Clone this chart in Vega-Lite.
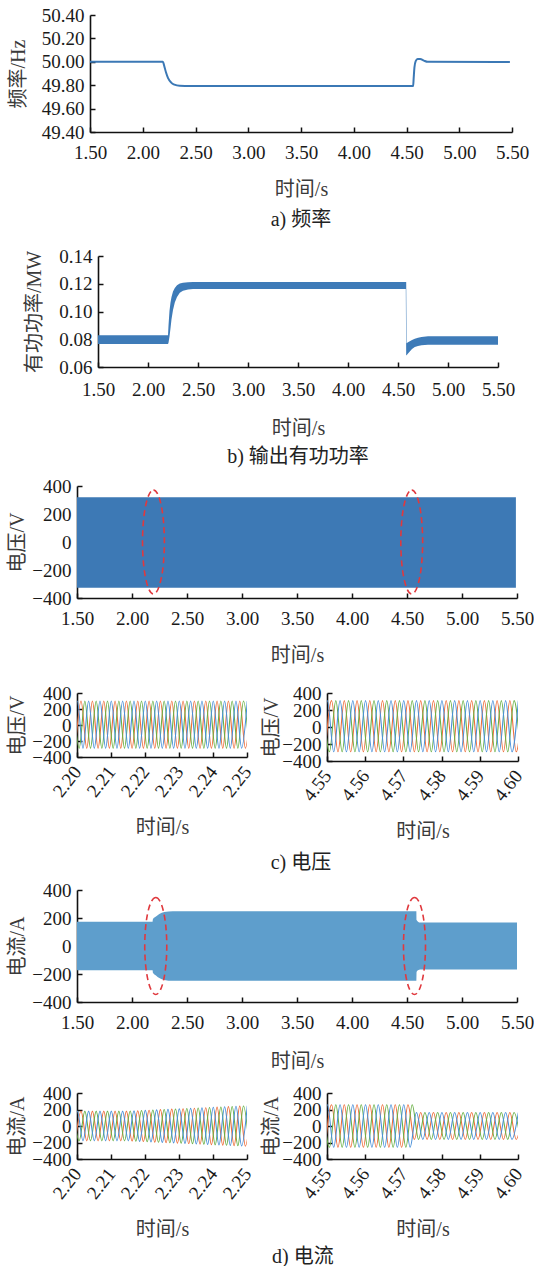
{
"$schema": "https://vega.github.io/schema/vega-lite/v6.json",
"padding": {"left": 0, "top": 6, "right": 0, "bottom": 0},
"background": "white",
"config": {
 "view": {"stroke": null},
 "axis": {"grid": false, "domainColor": "#111", "domainWidth": 1.6, "tickColor": "#111", "tickWidth": 1.5, "tickSize": -5, "labelFont": "Liberation Serif, Times New Roman, Times, serif", "labelFontSize": 19, "labelColor": "#1a1a1a", "labelFlush": false, "labelOverlap": false, "labelBound": false, "titleFont": "Liberation Serif, Times New Roman, Noto Sans CJK SC, serif", "titleFontSize": 20, "titleFontWeight": "normal", "titleColor": "#3a3a3a"},
 "title": {"orient": "bottom", "font": "Liberation Serif, Times New Roman, Noto Sans CJK SC, serif", "fontSize": 20, "fontWeight": "normal", "color": "#222", "anchor": "middle"}
},
"datasets": {
 "vl": [
  {"t":2.19953,"v":-290,"p":"O"},{"t":2.2012,"v":300,"p":"O"},{"t":2.20287,"v":-290,"p":"O"},{"t":2.20453,"v":300,"p":"O"},{"t":2.2062,"v":-290,"p":"O"},{"t":2.20787,"v":300,"p":"O"},{"t":2.20953,"v":-290,"p":"O"},{"t":2.2112,"v":300,"p":"O"},{"t":2.21287,"v":-290,"p":"O"},{"t":2.21453,"v":300,"p":"O"},{"t":2.2162,"v":-290,"p":"O"},{"t":2.21787,"v":300,"p":"O"},{"t":2.21953,"v":-290,"p":"O"},{"t":2.2212,"v":300,"p":"O"},{"t":2.22287,"v":-290,"p":"O"},{"t":2.22453,"v":300,"p":"O"},{"t":2.2262,"v":-290,"p":"O"},{"t":2.22787,"v":300,"p":"O"},{"t":2.22953,"v":-290,"p":"O"},{"t":2.2312,"v":300,"p":"O"},{"t":2.23287,"v":-290,"p":"O"},{"t":2.23453,"v":300,"p":"O"},{"t":2.2362,"v":-290,"p":"O"},{"t":2.23787,"v":300,"p":"O"},{"t":2.23953,"v":-290,"p":"O"},{"t":2.2412,"v":300,"p":"O"},{"t":2.24287,"v":-290,"p":"O"},{"t":2.24453,"v":300,"p":"O"},{"t":2.2462,"v":-290,"p":"O"},{"t":2.24787,"v":300,"p":"O"},{"t":2.24953,"v":-290,"p":"O"},{"t":2.2512,"v":300,"p":"O"},
  {"t":2.19897,"v":300,"p":"G"},{"t":2.20064,"v":-290,"p":"G"},{"t":2.20231,"v":300,"p":"G"},{"t":2.20397,"v":-290,"p":"G"},{"t":2.20564,"v":300,"p":"G"},{"t":2.20731,"v":-290,"p":"G"},{"t":2.20897,"v":300,"p":"G"},{"t":2.21064,"v":-290,"p":"G"},{"t":2.21231,"v":300,"p":"G"},{"t":2.21397,"v":-290,"p":"G"},{"t":2.21564,"v":300,"p":"G"},{"t":2.21731,"v":-290,"p":"G"},{"t":2.21897,"v":300,"p":"G"},{"t":2.22064,"v":-290,"p":"G"},{"t":2.22231,"v":300,"p":"G"},{"t":2.22397,"v":-290,"p":"G"},{"t":2.22564,"v":300,"p":"G"},{"t":2.22731,"v":-290,"p":"G"},{"t":2.22897,"v":300,"p":"G"},{"t":2.23064,"v":-290,"p":"G"},{"t":2.23231,"v":300,"p":"G"},{"t":2.23397,"v":-290,"p":"G"},{"t":2.23564,"v":300,"p":"G"},{"t":2.23731,"v":-290,"p":"G"},{"t":2.23897,"v":300,"p":"G"},{"t":2.24064,"v":-290,"p":"G"},{"t":2.24231,"v":300,"p":"G"},{"t":2.24397,"v":-290,"p":"G"},{"t":2.24564,"v":300,"p":"G"},{"t":2.24731,"v":-290,"p":"G"},{"t":2.24897,"v":300,"p":"G"},{"t":2.25064,"v":-290,"p":"G"},
  {"t":2.19842,"v":-290,"p":"B"},{"t":2.20009,"v":300,"p":"B"},{"t":2.20176,"v":-290,"p":"B"},{"t":2.20342,"v":300,"p":"B"},{"t":2.20509,"v":-290,"p":"B"},{"t":2.20676,"v":300,"p":"B"},{"t":2.20842,"v":-290,"p":"B"},{"t":2.21009,"v":300,"p":"B"},{"t":2.21176,"v":-290,"p":"B"},{"t":2.21342,"v":300,"p":"B"},{"t":2.21509,"v":-290,"p":"B"},{"t":2.21676,"v":300,"p":"B"},{"t":2.21842,"v":-290,"p":"B"},{"t":2.22009,"v":300,"p":"B"},{"t":2.22176,"v":-290,"p":"B"},{"t":2.22342,"v":300,"p":"B"},{"t":2.22509,"v":-290,"p":"B"},{"t":2.22676,"v":300,"p":"B"},{"t":2.22842,"v":-290,"p":"B"},{"t":2.23009,"v":300,"p":"B"},{"t":2.23176,"v":-290,"p":"B"},{"t":2.23342,"v":300,"p":"B"},{"t":2.23509,"v":-290,"p":"B"},{"t":2.23676,"v":300,"p":"B"},{"t":2.23842,"v":-290,"p":"B"},{"t":2.24009,"v":300,"p":"B"},{"t":2.24176,"v":-290,"p":"B"},{"t":2.24342,"v":300,"p":"B"},{"t":2.24509,"v":-290,"p":"B"},{"t":2.24676,"v":300,"p":"B"},{"t":2.24842,"v":-290,"p":"B"},{"t":2.25009,"v":300,"p":"B"}
 ],
 "vr": [
  {"t":4.54953,"v":-292,"p":"O"},{"t":4.5512,"v":310,"p":"O"},{"t":4.55287,"v":-292,"p":"O"},{"t":4.55453,"v":310,"p":"O"},{"t":4.5562,"v":-292,"p":"O"},{"t":4.55787,"v":310,"p":"O"},{"t":4.55953,"v":-292,"p":"O"},{"t":4.5612,"v":310,"p":"O"},{"t":4.56287,"v":-292,"p":"O"},{"t":4.56453,"v":310,"p":"O"},{"t":4.5662,"v":-292,"p":"O"},{"t":4.56787,"v":310,"p":"O"},{"t":4.56953,"v":-292,"p":"O"},{"t":4.5712,"v":310,"p":"O"},{"t":4.57287,"v":-292,"p":"O"},{"t":4.57453,"v":310,"p":"O"},{"t":4.5762,"v":-292,"p":"O"},{"t":4.57787,"v":310,"p":"O"},{"t":4.57953,"v":-292,"p":"O"},{"t":4.5812,"v":310,"p":"O"},{"t":4.58287,"v":-292,"p":"O"},{"t":4.58453,"v":310,"p":"O"},{"t":4.5862,"v":-292,"p":"O"},{"t":4.58787,"v":310,"p":"O"},{"t":4.58953,"v":-292,"p":"O"},{"t":4.5912,"v":310,"p":"O"},{"t":4.59287,"v":-292,"p":"O"},{"t":4.59453,"v":310,"p":"O"},{"t":4.5962,"v":-292,"p":"O"},{"t":4.59787,"v":310,"p":"O"},{"t":4.59953,"v":-292,"p":"O"},{"t":4.6012,"v":310,"p":"O"},
  {"t":4.54897,"v":310,"p":"G"},{"t":4.55064,"v":-292,"p":"G"},{"t":4.55231,"v":310,"p":"G"},{"t":4.55397,"v":-292,"p":"G"},{"t":4.55564,"v":310,"p":"G"},{"t":4.55731,"v":-292,"p":"G"},{"t":4.55897,"v":310,"p":"G"},{"t":4.56064,"v":-292,"p":"G"},{"t":4.56231,"v":310,"p":"G"},{"t":4.56397,"v":-292,"p":"G"},{"t":4.56564,"v":310,"p":"G"},{"t":4.56731,"v":-292,"p":"G"},{"t":4.56897,"v":310,"p":"G"},{"t":4.57064,"v":-292,"p":"G"},{"t":4.57231,"v":310,"p":"G"},{"t":4.57397,"v":-292,"p":"G"},{"t":4.57564,"v":310,"p":"G"},{"t":4.57731,"v":-292,"p":"G"},{"t":4.57897,"v":310,"p":"G"},{"t":4.58064,"v":-292,"p":"G"},{"t":4.58231,"v":310,"p":"G"},{"t":4.58397,"v":-292,"p":"G"},{"t":4.58564,"v":310,"p":"G"},{"t":4.58731,"v":-292,"p":"G"},{"t":4.58897,"v":310,"p":"G"},{"t":4.59064,"v":-292,"p":"G"},{"t":4.59231,"v":310,"p":"G"},{"t":4.59397,"v":-292,"p":"G"},{"t":4.59564,"v":310,"p":"G"},{"t":4.59731,"v":-292,"p":"G"},{"t":4.59897,"v":310,"p":"G"},{"t":4.60064,"v":-292,"p":"G"},
  {"t":4.54842,"v":-292,"p":"B"},{"t":4.55009,"v":310,"p":"B"},{"t":4.55176,"v":-292,"p":"B"},{"t":4.55342,"v":310,"p":"B"},{"t":4.55509,"v":-292,"p":"B"},{"t":4.55676,"v":310,"p":"B"},{"t":4.55842,"v":-292,"p":"B"},{"t":4.56009,"v":310,"p":"B"},{"t":4.56176,"v":-292,"p":"B"},{"t":4.56342,"v":310,"p":"B"},{"t":4.56509,"v":-292,"p":"B"},{"t":4.56676,"v":310,"p":"B"},{"t":4.56842,"v":-292,"p":"B"},{"t":4.57009,"v":310,"p":"B"},{"t":4.57176,"v":-292,"p":"B"},{"t":4.57342,"v":310,"p":"B"},{"t":4.57509,"v":-292,"p":"B"},{"t":4.57676,"v":310,"p":"B"},{"t":4.57842,"v":-292,"p":"B"},{"t":4.58009,"v":310,"p":"B"},{"t":4.58176,"v":-292,"p":"B"},{"t":4.58342,"v":310,"p":"B"},{"t":4.58509,"v":-292,"p":"B"},{"t":4.58676,"v":310,"p":"B"},{"t":4.58842,"v":-292,"p":"B"},{"t":4.59009,"v":310,"p":"B"},{"t":4.59176,"v":-292,"p":"B"},{"t":4.59342,"v":310,"p":"B"},{"t":4.59509,"v":-292,"p":"B"},{"t":4.59676,"v":310,"p":"B"},{"t":4.59842,"v":-292,"p":"B"},{"t":4.60009,"v":310,"p":"B"}
 ],
 "il": [
  {"t":2.19953,"v":-180,"p":"O"},{"t":2.2012,"v":180,"p":"O"},{"t":2.20287,"v":-180,"p":"O"},{"t":2.20453,"v":180,"p":"O"},{"t":2.2062,"v":-180,"p":"O"},{"t":2.20787,"v":180,"p":"O"},{"t":2.20953,"v":-180,"p":"O"},{"t":2.2112,"v":180,"p":"O"},{"t":2.21287,"v":-180,"p":"O"},{"t":2.21453,"v":180,"p":"O"},{"t":2.2162,"v":-182,"p":"O"},{"t":2.21787,"v":185,"p":"O"},{"t":2.21953,"v":-188,"p":"O"},{"t":2.2212,"v":191,"p":"O"},{"t":2.22287,"v":-195,"p":"O"},{"t":2.22453,"v":198,"p":"O"},{"t":2.2262,"v":-201,"p":"O"},{"t":2.22787,"v":204,"p":"O"},{"t":2.22953,"v":-207,"p":"O"},{"t":2.2312,"v":210,"p":"O"},{"t":2.23287,"v":-213,"p":"O"},{"t":2.23453,"v":216,"p":"O"},{"t":2.2362,"v":-219,"p":"O"},{"t":2.23787,"v":222,"p":"O"},{"t":2.23953,"v":-226,"p":"O"},{"t":2.2412,"v":229,"p":"O"},{"t":2.24287,"v":-232,"p":"O"},{"t":2.24453,"v":235,"p":"O"},{"t":2.2462,"v":-238,"p":"O"},{"t":2.24787,"v":241,"p":"O"},{"t":2.24953,"v":-244,"p":"O"},{"t":2.2512,"v":246,"p":"O"},
  {"t":2.19897,"v":180,"p":"G"},{"t":2.20064,"v":-180,"p":"G"},{"t":2.20231,"v":180,"p":"G"},{"t":2.20397,"v":-180,"p":"G"},{"t":2.20564,"v":180,"p":"G"},{"t":2.20731,"v":-180,"p":"G"},{"t":2.20897,"v":180,"p":"G"},{"t":2.21064,"v":-180,"p":"G"},{"t":2.21231,"v":180,"p":"G"},{"t":2.21397,"v":-180,"p":"G"},{"t":2.21564,"v":181,"p":"G"},{"t":2.21731,"v":-184,"p":"G"},{"t":2.21897,"v":187,"p":"G"},{"t":2.22064,"v":-190,"p":"G"},{"t":2.22231,"v":194,"p":"G"},{"t":2.22397,"v":-197,"p":"G"},{"t":2.22564,"v":200,"p":"G"},{"t":2.22731,"v":-203,"p":"G"},{"t":2.22897,"v":206,"p":"G"},{"t":2.23064,"v":-209,"p":"G"},{"t":2.23231,"v":212,"p":"G"},{"t":2.23397,"v":-215,"p":"G"},{"t":2.23564,"v":218,"p":"G"},{"t":2.23731,"v":-221,"p":"G"},{"t":2.23897,"v":225,"p":"G"},{"t":2.24064,"v":-228,"p":"G"},{"t":2.24231,"v":231,"p":"G"},{"t":2.24397,"v":-234,"p":"G"},{"t":2.24564,"v":237,"p":"G"},{"t":2.24731,"v":-240,"p":"G"},{"t":2.24897,"v":243,"p":"G"},{"t":2.25064,"v":-245,"p":"G"},
  {"t":2.19842,"v":-180,"p":"B"},{"t":2.20009,"v":180,"p":"B"},{"t":2.20176,"v":-180,"p":"B"},{"t":2.20342,"v":180,"p":"B"},{"t":2.20509,"v":-180,"p":"B"},{"t":2.20676,"v":180,"p":"B"},{"t":2.20842,"v":-180,"p":"B"},{"t":2.21009,"v":180,"p":"B"},{"t":2.21176,"v":-180,"p":"B"},{"t":2.21342,"v":180,"p":"B"},{"t":2.21509,"v":-180,"p":"B"},{"t":2.21676,"v":183,"p":"B"},{"t":2.21842,"v":-186,"p":"B"},{"t":2.22009,"v":189,"p":"B"},{"t":2.22176,"v":-193,"p":"B"},{"t":2.22342,"v":196,"p":"B"},{"t":2.22509,"v":-199,"p":"B"},{"t":2.22676,"v":202,"p":"B"},{"t":2.22842,"v":-205,"p":"B"},{"t":2.23009,"v":208,"p":"B"},{"t":2.23176,"v":-211,"p":"B"},{"t":2.23342,"v":214,"p":"B"},{"t":2.23509,"v":-217,"p":"B"},{"t":2.23676,"v":220,"p":"B"},{"t":2.23842,"v":-224,"p":"B"},{"t":2.24009,"v":227,"p":"B"},{"t":2.24176,"v":-230,"p":"B"},{"t":2.24342,"v":233,"p":"B"},{"t":2.24509,"v":-236,"p":"B"},{"t":2.24676,"v":239,"p":"B"},{"t":2.24842,"v":-242,"p":"B"},{"t":2.25009,"v":245,"p":"B"}
 ],
 "ir": [
  {"t":4.54953,"v":-258,"p":"O"},{"t":4.5512,"v":258,"p":"O"},{"t":4.55287,"v":-258,"p":"O"},{"t":4.55453,"v":258,"p":"O"},{"t":4.5562,"v":-258,"p":"O"},{"t":4.55787,"v":258,"p":"O"},{"t":4.55953,"v":-258,"p":"O"},{"t":4.5612,"v":258,"p":"O"},{"t":4.56287,"v":-258,"p":"O"},{"t":4.56453,"v":258,"p":"O"},{"t":4.5662,"v":-258,"p":"O"},{"t":4.56787,"v":258,"p":"O"},{"t":4.56953,"v":-258,"p":"O"},{"t":4.5712,"v":258,"p":"O"},{"t":4.57287,"v":-163,"p":"O"},{"t":4.57453,"v":163,"p":"O"},{"t":4.5762,"v":-163,"p":"O"},{"t":4.57787,"v":163,"p":"O"},{"t":4.57953,"v":-163,"p":"O"},{"t":4.5812,"v":163,"p":"O"},{"t":4.58287,"v":-163,"p":"O"},{"t":4.58453,"v":163,"p":"O"},{"t":4.5862,"v":-163,"p":"O"},{"t":4.58787,"v":163,"p":"O"},{"t":4.58953,"v":-163,"p":"O"},{"t":4.5912,"v":163,"p":"O"},{"t":4.59287,"v":-163,"p":"O"},{"t":4.59453,"v":163,"p":"O"},{"t":4.5962,"v":-163,"p":"O"},{"t":4.59787,"v":163,"p":"O"},{"t":4.59953,"v":-163,"p":"O"},{"t":4.6012,"v":163,"p":"O"},
  {"t":4.54897,"v":258,"p":"G"},{"t":4.55064,"v":-258,"p":"G"},{"t":4.55231,"v":258,"p":"G"},{"t":4.55397,"v":-258,"p":"G"},{"t":4.55564,"v":258,"p":"G"},{"t":4.55731,"v":-258,"p":"G"},{"t":4.55897,"v":258,"p":"G"},{"t":4.56064,"v":-258,"p":"G"},{"t":4.56231,"v":258,"p":"G"},{"t":4.56397,"v":-258,"p":"G"},{"t":4.56564,"v":258,"p":"G"},{"t":4.56731,"v":-258,"p":"G"},{"t":4.56897,"v":258,"p":"G"},{"t":4.57064,"v":-258,"p":"G"},{"t":4.57231,"v":258,"p":"G"},{"t":4.57397,"v":-163,"p":"G"},{"t":4.57564,"v":163,"p":"G"},{"t":4.57731,"v":-163,"p":"G"},{"t":4.57897,"v":163,"p":"G"},{"t":4.58064,"v":-163,"p":"G"},{"t":4.58231,"v":163,"p":"G"},{"t":4.58397,"v":-163,"p":"G"},{"t":4.58564,"v":163,"p":"G"},{"t":4.58731,"v":-163,"p":"G"},{"t":4.58897,"v":163,"p":"G"},{"t":4.59064,"v":-163,"p":"G"},{"t":4.59231,"v":163,"p":"G"},{"t":4.59397,"v":-163,"p":"G"},{"t":4.59564,"v":163,"p":"G"},{"t":4.59731,"v":-163,"p":"G"},{"t":4.59897,"v":163,"p":"G"},{"t":4.60064,"v":-163,"p":"G"},
  {"t":4.54842,"v":-258,"p":"B"},{"t":4.55009,"v":258,"p":"B"},{"t":4.55176,"v":-258,"p":"B"},{"t":4.55342,"v":258,"p":"B"},{"t":4.55509,"v":-258,"p":"B"},{"t":4.55676,"v":258,"p":"B"},{"t":4.55842,"v":-258,"p":"B"},{"t":4.56009,"v":258,"p":"B"},{"t":4.56176,"v":-258,"p":"B"},{"t":4.56342,"v":258,"p":"B"},{"t":4.56509,"v":-258,"p":"B"},{"t":4.56676,"v":258,"p":"B"},{"t":4.56842,"v":-258,"p":"B"},{"t":4.57009,"v":258,"p":"B"},{"t":4.57176,"v":-258,"p":"B"},{"t":4.57342,"v":163,"p":"B"},{"t":4.57509,"v":-163,"p":"B"},{"t":4.57676,"v":163,"p":"B"},{"t":4.57842,"v":-163,"p":"B"},{"t":4.58009,"v":163,"p":"B"},{"t":4.58176,"v":-163,"p":"B"},{"t":4.58342,"v":163,"p":"B"},{"t":4.58509,"v":-163,"p":"B"},{"t":4.58676,"v":163,"p":"B"},{"t":4.58842,"v":-163,"p":"B"},{"t":4.59009,"v":163,"p":"B"},{"t":4.59176,"v":-163,"p":"B"},{"t":4.59342,"v":163,"p":"B"},{"t":4.59509,"v":-163,"p":"B"},{"t":4.59676,"v":163,"p":"B"},{"t":4.59842,"v":-163,"p":"B"},{"t":4.60009,"v":163,"p":"B"}
 ]
},
"concat": [
 {
  "concat": [
   {"width": 8, "height": 1, "data": {"values": []}, "mark": "point"},
   {
    "width": 422, "height": 117,
    "data": {"values": [{"t":1.5,"f":50.0},{"t":2.19,"f":50.0},{"t":2.205,"f":49.96},{"t":2.22,"f":49.91},{"t":2.24,"f":49.86},{"t":2.27,"f":49.822},{"t":2.30,"f":49.805},{"t":2.35,"f":49.795},{"t":2.45,"f":49.793},{"t":4.563,"f":49.793},{"t":4.568,"f":49.86},{"t":4.575,"f":49.95},{"t":4.587,"f":50.006},{"t":4.605,"f":50.024},{"t":4.63,"f":50.024},{"t":4.665,"f":50.01},{"t":4.70,"f":50.0},{"t":5.48,"f":49.998}]},
    "mark": {"type": "line", "color": "#3b78b5", "strokeWidth": 2, "interpolate": "monotone"},
    "encoding": {
     "x": {"field": "t", "type": "quantitative", "scale": {"domain": [1.5, 5.5], "nice": false, "zero": false}, "axis": {"values": [1.5,2,2.5,3,3.5,4,4.5,5,5.5], "format": ".2f", "title": "时间/s", "labelPadding": 16, "titlePadding": 17}},
     "y": {"field": "f", "type": "quantitative", "scale": {"domain": [49.4, 50.4], "nice": false, "zero": false}, "axis": {"values": [49.4,49.6,49.8,50,50.2,50.4], "format": ".2f", "title": "频率/Hz", "labelPadding": 11, "titlePadding": 13}}
    },
    "title": {"text": "a) 频率", "offset": 11, "frame": "group"}
   }
  ],
  "columns": 2, "align": "none", "spacing": 0
 },
 {
  "concat": [
   {
    "concat": [
     {"width": 24, "height": 1, "data": {"values": []}, "mark": "point"},
     {
      "width": 400, "height": 111,
      "data": {"values": [{"t":1.5,"lo":0.0765,"hi":0.0828},{"t":2.2,"lo":0.0765,"hi":0.0828},{"t":2.205,"lo":0.0775,"hi":0.09},{"t":2.215,"lo":0.082,"hi":0.1005},{"t":2.225,"lo":0.088,"hi":0.1065},{"t":2.235,"lo":0.0945,"hi":0.1105},{"t":2.25,"lo":0.101,"hi":0.1145},{"t":2.268,"lo":0.1065,"hi":0.117},{"t":2.29,"lo":0.1105,"hi":0.119},{"t":2.318,"lo":0.1135,"hi":0.1202},{"t":2.35,"lo":0.115,"hi":0.1208},{"t":2.4,"lo":0.1158,"hi":0.1211},{"t":2.45,"lo":0.1163,"hi":0.1212},{"t":4.578,"lo":0.1163,"hi":0.1212},{"t":4.582,"lo":0.0684,"hi":0.1212},{"t":4.586,"lo":0.0684,"hi":0.0772},{"t":4.6,"lo":0.0697,"hi":0.0778},{"t":4.618,"lo":0.0712,"hi":0.0786},{"t":4.64,"lo":0.073,"hi":0.0795},{"t":4.668,"lo":0.0745,"hi":0.0804},{"t":4.7,"lo":0.0752,"hi":0.0811},{"t":4.735,"lo":0.0757,"hi":0.0816},{"t":4.8,"lo":0.076,"hi":0.0821},{"t":5.5,"lo":0.0761,"hi":0.0822}]},
      "mark": {"type": "area", "color": "#3e7bb8", "opacity": 1, "interpolate": "linear"},
      "encoding": {
       "x": {"field": "t", "type": "quantitative", "scale": {"domain": [1.5, 5.5], "nice": false, "zero": false}, "axis": {"values": [1.5,2,2.5,3,3.5,4,4.5,5,5.5], "format": ".2f", "title": "时间/s", "labelPadding": 18, "titlePadding": 19}},
       "y": {"field": "lo", "type": "quantitative", "scale": {"domain": [0.06, 0.14], "nice": false, "zero": false}, "axis": {"values": [0.06,0.08,0.1,0.12,0.14], "format": ".2f", "title": "有功功率/MW", "labelPadding": 11, "titlePadding": 14}},
       "y2": {"field": "hi"}
      },
      "title": {"text": "b) 输出有功功率", "offset": 9, "frame": "group"}
     }
    ],
    "columns": 2, "align": "none", "spacing": 0
   },
   {
    "concat": [
     {
      "concat": [
       {"width": 7, "height": 1, "data": {"values": []}, "mark": "point"},
       {
        "width": 440, "height": 112,
        "encoding": {
         "x": {"field": "t", "type": "quantitative", "scale": {"domain": [1.5, 5.5], "nice": false, "zero": false}, "axis": {"values": [1.5,2,2.5,3,3.5,4,4.5,5,5.5], "format": ".2f", "title": "时间/s", "labelPadding": 16, "titlePadding": 17}},
         "y": {"field": "lo", "type": "quantitative", "scale": {"domain": [-400, 400], "nice": false, "zero": false}, "axis": {"values": [-400,-200,0,200,400], "title": "电压/V", "labelPadding": 11, "titlePadding": 4}}
        },
        "layer": [
         {
          "data": {"values": [{"t":1.5,"lo":-326,"hi":319},{"t":5.49,"lo":-326,"hi":319}]},
          "mark": {"type": "area", "color": "#3d79b5", "opacity": 1},
          "encoding": {"y2": {"field": "hi"}}
         },
         {
          "data": {"values": [{"t":2.195,"lo":0},{"t":4.543,"lo":0}]},
          "mark": {"type": "point", "shape": "M0,-1A0.21,1,0,1,1,0,1A0.21,1,0,1,1,0,-1Z", "size": 10816, "filled": false, "stroke": "#e0393e", "strokeWidth": 1.6, "strokeDash": [6, 4], "opacity": 1}
         }
        ]
       }
      ],
      "columns": 2, "align": "none", "spacing": 0
     },
     {
      "concat": [
       {
        "concat": [
         {"width": 1, "height": 1, "data": {"values": []}, "mark": "point"},
         {
          "width": 170, "height": 64,
          "data": {"name": "vl"},
          "mark": {"type": "line", "interpolate": "monotone", "strokeWidth": 1.1, "clip": true},
          "encoding": {
           "x": {"field": "t", "type": "quantitative", "scale": {"domain": [2.2, 2.25], "nice": false, "zero": false}, "axis": {"values": [2.2,2.21,2.22,2.23,2.24,2.25], "format": ".2f", "labelAngle": -52, "labelAlign": "right", "labelBaseline": "middle", "title": "时间/s", "labelPadding": 16, "titlePadding": 17}},
           "y": {"field": "v", "type": "quantitative", "scale": {"domain": [-400, 400], "nice": false, "zero": false}, "axis": {"values": [-400,-200,0,200,400], "title": "电压/V", "labelPadding": 11, "titlePadding": 4}},
           "color": {"field": "p", "type": "nominal", "scale": {"domain": ["O","G","B"], "range": ["#ee6f3c","#69b046","#4a90d9"]}, "legend": null}
          }
         },
         {
          "width": 191, "height": 68,
          "data": {"name": "vr"},
          "mark": {"type": "line", "interpolate": "monotone", "strokeWidth": 1.1, "clip": true},
          "encoding": {
           "x": {"field": "t", "type": "quantitative", "scale": {"domain": [4.55, 4.6], "nice": false, "zero": false}, "axis": {"values": [4.55,4.56,4.57,4.58,4.59,4.6], "format": ".2f", "labelAngle": -52, "labelAlign": "right", "labelBaseline": "middle", "title": "时间/s", "labelPadding": 16, "titlePadding": 17}},
           "y": {"field": "v", "type": "quantitative", "scale": {"domain": [-400, 400], "nice": false, "zero": false}, "axis": {"values": [-400,-200,0,200,400], "title": "电压/V", "labelPadding": 11, "titlePadding": 0}},
           "color": {"field": "p", "type": "nominal", "scale": {"domain": ["O","G","B"], "range": ["#ee6f3c","#69b046","#4a90d9"]}, "legend": null}
          }
         }
        ],
        "columns": 3, "align": "none", "spacing": 6,
        "title": {"text": "c) 电压", "offset": 12, "dx": 38}
       },
       {
        "concat": [
         {
          "concat": [
           {"width": 7, "height": 1, "data": {"values": []}, "mark": "point"},
           {
            "width": 440, "height": 112,
            "encoding": {
             "x": {"field": "t", "type": "quantitative", "scale": {"domain": [1.5, 5.5], "nice": false, "zero": false}, "axis": {"values": [1.5,2,2.5,3,3.5,4,4.5,5,5.5], "format": ".2f", "title": "时间/s", "labelPadding": 16, "titlePadding": 19}},
             "y": {"field": "lo", "type": "quantitative", "scale": {"domain": [-400, 400], "nice": false, "zero": false}, "axis": {"values": [-400,-200,0,200,400], "title": "电流/A", "labelPadding": 11, "titlePadding": 4}}
            },
            "layer": [
             {
              "data": {"values": [{"t":1.5,"lo":-174,"hi":174},{"t":2.187,"lo":-174,"hi":174},{"t":2.19,"lo":-191,"hi":191},{"t":2.218,"lo":-210,"hi":210},{"t":2.248,"lo":-229,"hi":229},{"t":2.294,"lo":-243,"hi":243},{"t":2.37,"lo":-249,"hi":249},{"t":4.585,"lo":-249,"hi":249},{"t":4.587,"lo":-185,"hi":185},{"t":4.6,"lo":-174,"hi":174},{"t":4.62,"lo":-167,"hi":167},{"t":5.5,"lo":-167,"hi":167}]},
              "mark": {"type": "area", "color": "#5e9ecc", "opacity": 1, "interpolate": "monotone"},
              "encoding": {"y2": {"field": "hi"}}
             },
             {
              "data": {"values": [{"t":2.216,"lo":0},{"t":4.568,"lo":0}]},
              "mark": {"type": "point", "shape": "M0,-1A0.227,1,0,1,1,0,1A0.227,1,0,1,1,0,-1Z", "size": 9409, "filled": false, "stroke": "#e0393e", "strokeWidth": 1.6, "strokeDash": [6, 4], "opacity": 1}
             }
            ]
           }
          ],
          "columns": 2, "align": "none", "spacing": 0
         },
         {
          "concat": [
           {"width": 1, "height": 1, "data": {"values": []}, "mark": "point"},
           {
            "width": 170, "height": 66,
            "data": {"name": "il"},
            "mark": {"type": "line", "interpolate": "monotone", "strokeWidth": 1.1, "clip": true},
            "encoding": {
             "x": {"field": "t", "type": "quantitative", "scale": {"domain": [2.2, 2.25], "nice": false, "zero": false}, "axis": {"values": [2.2,2.21,2.22,2.23,2.24,2.25], "format": ".2f", "labelAngle": -52, "labelAlign": "right", "labelBaseline": "middle", "title": "时间/s", "labelPadding": 16, "titlePadding": 17}},
             "y": {"field": "v", "type": "quantitative", "scale": {"domain": [-400, 400], "nice": false, "zero": false}, "axis": {"values": [-400,-200,0,200,400], "title": "电流/A", "labelPadding": 11, "titlePadding": 4}},
             "color": {"field": "p", "type": "nominal", "scale": {"domain": ["O","G","B"], "range": ["#ee6f3c","#69b046","#4a90d9"]}, "legend": null}
            }
           },
           {
            "width": 191, "height": 66,
            "data": {"name": "ir"},
            "mark": {"type": "line", "interpolate": "monotone", "strokeWidth": 1.1, "clip": true},
            "encoding": {
             "x": {"field": "t", "type": "quantitative", "scale": {"domain": [4.55, 4.6], "nice": false, "zero": false}, "axis": {"values": [4.55,4.56,4.57,4.58,4.59,4.6], "format": ".2f", "labelAngle": -52, "labelAlign": "right", "labelBaseline": "middle", "title": "时间/s", "labelPadding": 16, "titlePadding": 17}},
             "y": {"field": "v", "type": "quantitative", "scale": {"domain": [-400, 400], "nice": false, "zero": false}, "axis": {"values": [-400,-200,0,200,400], "title": "电流/A", "labelPadding": 11, "titlePadding": 0}},
             "color": {"field": "p", "type": "nominal", "scale": {"domain": ["O","G","B"], "range": ["#ee6f3c","#69b046","#4a90d9"]}, "legend": null}
            }
           }
          ],
          "columns": 3, "align": "none", "spacing": 6,
          "title": {"text": "d) 电流", "offset": 8, "dx": 40}
         }
        ],
        "columns": 1, "align": "none", "spacing": 13
       }
      ],
      "columns": 1, "align": "none", "spacing": 7
     }
    ],
    "columns": 1, "align": "none", "spacing": 19
   }
  ],
  "columns": 1, "align": "none", "spacing": 10
 }
],
"columns": 1, "align": "none", "spacing": 17
}
